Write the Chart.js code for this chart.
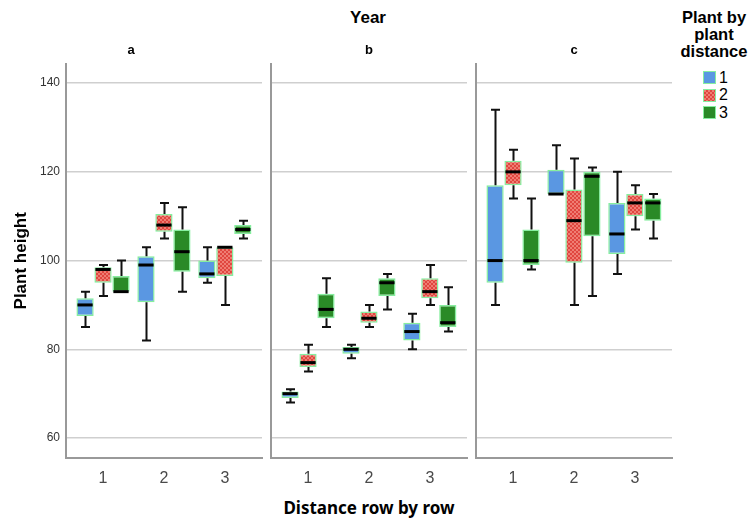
<!DOCTYPE html>
<html>
<head>
<meta charset="utf-8">
<script src="https://cdn.jsdelivr.net/npm/chart.js@4.4.1/dist/chart.umd.min.js"></script>
<style>
  body { margin: 0; background: #fff; }
  #wrap { position: relative; width: 751px; height: 520px; overflow: hidden; background: #fff; }
  #wrap canvas { position: absolute; }
  .txt { position: absolute; white-space: nowrap; color: #000; }
  #year { left: 318px; width: 100px; top: 8px; text-align: center; font: bold 17px "Liberation Sans", Arial, sans-serif; }
  #xtitle { left: 219px; width: 300px; top: 496px; text-align: center; font: bold 17px "Noto Sans", "Open Sans", sans-serif; }
  #legTitle { left: 674px; width: 80px; top: 9px; text-align: center; font: bold 16.5px/17px "Liberation Sans", Arial, sans-serif; }
  #legItems { position: absolute; left: 703px; top: 69px; font: 16px "Liberation Sans", Arial, sans-serif; }
  .item { height: 17.5px; display: flex; align-items: center; }
  .sw { width: 11px; height: 11px; border: 1px solid #86ee9f; margin-right: 3px; }
</style>
</head>
<body>
<div id="wrap">
  <div class="txt" id="year">Year</div>
  <div class="txt" id="legTitle">Plant by<br>plant<br>distance</div>
  <div id="legItems"></div>
  <div class="txt" id="xtitle">Distance row by row</div>
  <canvas id="panelA" width="263" height="447" style="left:0px;top:43px"></canvas>
  <canvas id="panelB" width="199" height="447" style="left:269px;top:43px"></canvas>
  <canvas id="panelC" width="199" height="447" style="left:474px;top:43px"></canvas>
</div>
<script>
// Row-by-row distance categories and plant-by-plant distance series
var categories = ['1', '2', '3'];
var seriesNames = ['1', '2', '3'];
var panelNames = ['a', 'b', 'c'];
var yTicks = [60, 80, 100, 120, 140];

// Five-number summaries per row distance: [min, q1, median, q3, max]
// Year a
var a1 = [[85, 87.5, 90, 91.5, 93], [82, 90.6, 99, 101, 103], [95, 96, 97, 100, 103]];
var a2 = [[92, 95, 98, 98.5, 99], [105, 106.5, 108, 110.5, 113], [90, 96.5, 103, 103, 103]];
var a3 = [[93, 93, 93, 96.5, 100], [93, 97.5, 102, 107, 112], [105, 106, 107, 108, 109]];
// Year b
var b1 = [[68, 69, 70, 70.5, 71], [78, 79, 80, 80.5, 81], [80, 82, 84, 86, 88]];
var b2 = [[75, 76, 77, 79, 81], [85, 86, 87, 88.5, 90], [90, 91.5, 93, 96, 99]];
var b3 = [[85, 87, 89, 92.5, 96], [89, 92, 95, 96, 97], [84, 85, 86, 90, 94]];
// Year c
var c1 = [[90, 95, 100, 117, 134], [115, 115, 115, 120.5, 126], [97, 101.5, 106, 113, 120]];
var c2 = [[114, 117, 120, 122.5, 125], [90, 99.5, 109, 116, 123], [107, 110, 113, 115, 117]];
var c3 = [[98, 99, 100, 107, 114], [92, 105.5, 119, 120, 121], [105, 109, 113, 114, 115]];

var BLUE = '#5a97e2';
var GREEN = '#2a8a27';
var EDGE = '#86ee9f';

// Dotted red fill like the SPSS pattern
function makeRedPattern() {
	var p = document.createElement('canvas');
	p.width = 4; p.height = 4;
	var g = p.getContext('2d');
	g.fillStyle = '#e0463f';
	g.fillRect(0, 0, 4, 4);
	g.fillStyle = '#ef7d73';
	g.fillRect(0, 0, 2, 2);
	g.fillRect(2, 2, 2, 2);
	return p;
}
var redTile = makeRedPattern();
var RED = document.createElement('canvas').getContext('2d').createPattern(redTile, 'repeat');
var fills = [BLUE, RED, GREEN];

// Legend swatches
var legItems = document.getElementById('legItems');
seriesNames.forEach(function (name, i) {
	var row = document.createElement('div');
	row.className = 'item';
	var sw = document.createElement('span');
	sw.className = 'sw';
	if (i === 1) sw.style.background = 'url(' + redTile.toDataURL() + ')';
	else sw.style.background = fills[i];
	row.appendChild(sw);
	row.appendChild(document.createTextNode(name));
	legItems.appendChild(row);
});

/**
 * Whiskers, caps and median lines drawn on top of the floating bars
 */
var boxPlugin = {
	id: 'boxWhiskers',
	afterDatasetsDraw: function (chart) {
		var ctx = chart.ctx;
		var y = chart.scales.y;
		chart.data.datasets.forEach(function (ds, i) {
			var meta = chart.getDatasetMeta(i);
			meta.data.forEach(function (bar, j) {
				var s = ds.stats[j];
				var x = Math.round(bar.x) + 0.5;
				var half = bar.width / 2;
				ctx.save();
				ctx.strokeStyle = '#111';
				ctx.lineWidth = 2;
				ctx.beginPath();
				if (s[4] > s[3]) {
					ctx.moveTo(x, y.getPixelForValue(s[3]));
					ctx.lineTo(x, y.getPixelForValue(s[4]));
					ctx.moveTo(x - 4.5, y.getPixelForValue(s[4]));
					ctx.lineTo(x + 4.5, y.getPixelForValue(s[4]));
				}
				if (s[0] < s[1]) {
					ctx.moveTo(x, y.getPixelForValue(s[1]));
					ctx.lineTo(x, y.getPixelForValue(s[0]));
					ctx.moveTo(x - 4.5, y.getPixelForValue(s[0]));
					ctx.lineTo(x + 4.5, y.getPixelForValue(s[0]));
				}
				ctx.stroke();
				// Median
				ctx.lineWidth = 3;
				ctx.strokeStyle = '#000';
				ctx.beginPath();
				ctx.moveTo(bar.x - half + 1, y.getPixelForValue(s[2]));
				ctx.lineTo(bar.x + half - 1, y.getPixelForValue(s[2]));
				ctx.stroke();
				ctx.restore();
			});
		});
	}
};

function buildPanel(canvasId, title, stats, showAxis) {
	var datasets = stats.map(function (series, i) {
		return {
			label: seriesNames[i],
			data: series.map(function (s, j) { return { x: j + 1, y: [s[1], s[3]] }; }),
			stats: series,
			backgroundColor: fills[i],
			borderColor: EDGE,
			borderWidth: 1.5,
			borderSkipped: false,
			categoryPercentage: 0.885,
			barPercentage: 0.96
		};
	});
	return new Chart(document.getElementById(canvasId), {
		type: 'bar',
		data: { datasets: datasets },
		options: {
			responsive: false,
			animation: false,
			devicePixelRatio: 1,
			layout: { padding: { left: showAxis ? 0 : 2, right: 1, top: 0, bottom: 0 } },
			plugins: {
				legend: { display: false },
				tooltip: { enabled: false },
				title: {
					display: true,
					text: title,
					color: '#000',
					font: { size: 13, weight: 'bold', family: '"Liberation Sans", Arial, sans-serif' },
					padding: { top: 0, bottom: 5 }
				}
			},
			scales: {
				x: {
					type: 'linear',
					offset: false,
					min: 0.392,
					max: 3.61,
					grid: { display: false, drawTicks: false, offset: false },
					border: { display: true, color: '#999', width: 2 },
					ticks: {
						stepSize: 1,
						includeBounds: false,
						padding: 11,
						color: '#4a4a4a',
						font: { size: 16, family: '"Liberation Sans", Arial, sans-serif' },
						callback: function (v) { return categories[v - 1] || ''; }
					},
					afterFit: function (scale) { scale.height = 32; }
				},
				y: {
					min: 55.5,
					max: 144.4,
					grid: { color: '#cfcfcf', lineWidth: 1.5, drawTicks: false },
					border: { display: true, color: '#999', width: 2 },
					ticks: {
						display: showAxis,
						stepSize: 20,
						includeBounds: false,
						padding: 6,
						color: '#333',
						font: { size: 12, family: '"Liberation Sans", Arial, sans-serif' },
						callback: function (v) { return yTicks.indexOf(v) >= 0 ? String(v) : ''; }
					},
					title: {
						display: showAxis,
						text: 'Plant height',
						color: '#000',
						font: { size: 17, weight: 'bold', family: '"Liberation Sans", Arial, sans-serif' },
						padding: { top: 11, bottom: 0 }
					},
					afterFit: function (scale) { scale.width = showAxis ? 66 : 0; }
				}
			}
		},
		plugins: [boxPlugin]
	});
}

buildPanel('panelA', panelNames[0], [a1, a2, a3], true);
buildPanel('panelB', panelNames[1], [b1, b2, b3], false);
buildPanel('panelC', panelNames[2], [c1, c2, c3], false);
</script>
</body>
</html>
